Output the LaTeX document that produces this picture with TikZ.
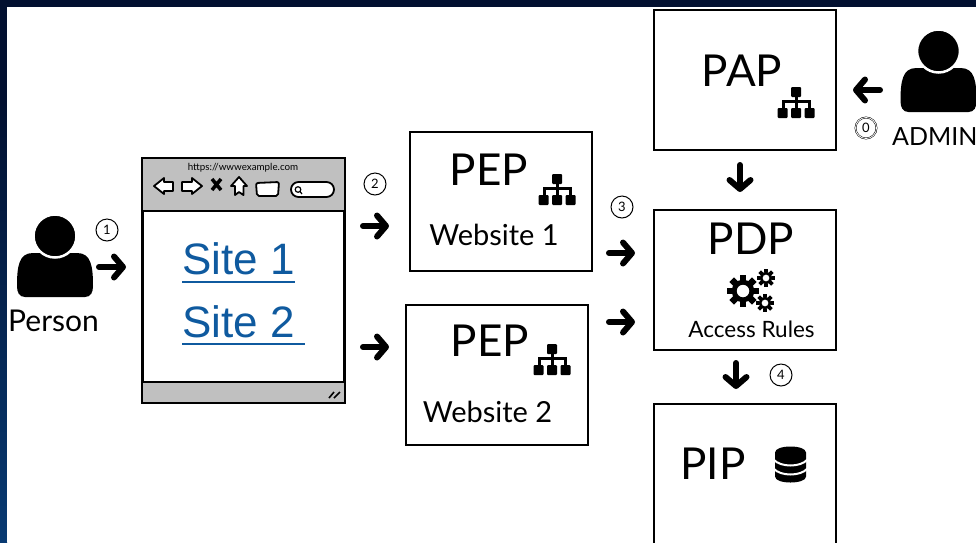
\documentclass[tikz,border=0pt]{standalone}
\usepackage{fontspec}
\setmainfont{Lato}
\newfontfamily\sitefont{Liberation Sans}
\usetikzlibrary{arrows.meta}
\definecolor{navy}{HTML}{021030}
\definecolor{stripblue}{HTML}{083A72}
\definecolor{sitelink}{HTML}{0F5A9F}
\definecolor{chrome}{HTML}{C0C0C0}
\newcommand{\fsz}[1]{\fontsize{#1}{#1}\selectfont}
\tikzset{
  box/.style={draw=black,line width=1.5pt,fill=white,minimum width=182pt,inner sep=0pt},
  boxtitle/.style={inner sep=0pt,text=black,font=\fsz{44}},
  boxnote/.style={inner sep=0pt,text=black,font=\fsz{29}},
  fat/.style={draw=black,line width=6pt,line cap=round,line join=round,-{Straight Barb[round,length=9pt,width=21pt]}},
  num/.style={circle,draw=black,line width=1pt,fill=white,minimum size=22pt,inner sep=0pt,font=\fsz{13}},
  sitelabel/.style={inner sep=0pt,text=sitelink,font=\sitefont\fsz{44}},
  linkline/.style={draw=sitelink,line width=2.2pt},
  tool/.style={draw=black,line width=1.8pt,fill=white,line join=round},
  person/.pic={
    \fill[black] (-30,61) -- (30,61) .. controls (36,61) and (38,56) .. (38,50)
      .. controls (38,30) and (36,17) .. (22,17) -- (-22,17)
      .. controls (-36,17) and (-38,30) .. (-38,50)
      .. controls (-38,56) and (-36,61) .. (-30,61) -- cycle;
    \draw[white,line width=2.5pt,fill=black] (0,0) circle (21.5pt);
  },
  orgchart/.pic={
    \fill[black,rounded corners=1pt] (-5,-16) rectangle (5,-6);
    \fill[black] (-1.5,-6) rectangle (1.5,6);
    \fill[black] (-14.5,-3) rectangle (14.5,0);
    \fill[black] (-14.5,-3) rectangle (-11.5,6);
    \fill[black] (11.5,-3) rectangle (14.5,6);
    \fill[black,rounded corners=1pt] (-18.5,5) rectangle (-8.5,15);
    \fill[black,rounded corners=1pt] (-5,5) rectangle (5,15);
    \fill[black,rounded corners=1pt] (8.5,5) rectangle (18.5,15);
  },
  pics/gear/.style={code={
    \foreach \a in {0,45,...,315}{
      \fill[black,rotate=\a] (-#1*.2,-#1) rectangle (#1*.2,-#1*.62);
    }
    \draw[black,line width=#1*.3pt] (0,0) circle ({#1*.55pt});
  }},
  dbstack/.pic={
    \fill[black] (-15.5,-12) -- (-15.5,12) .. controls (-15.5,20) and (15.5,20) .. (15.5,12) -- (15.5,-12)
      .. controls (15.5,-20) and (-15.5,-20) .. (-15.5,-12) -- cycle;
    \draw[white,line width=2pt] (-17,-5) .. controls (-10,3) and (10,3) .. (17,-5);
    \draw[white,line width=2pt] (-17,4) .. controls (-10,12) and (10,12) .. (17,4);
  }
}
\begin{document}
\begin{tikzpicture}[x=1pt,y=-1pt]
\useasboundingbox (0,0) rectangle (976,542);
\clip (0,0) rectangle (976,542);
% page frame
\fill[navy] (0,0) rectangle (976,542);
\shade[top color=navy,bottom color=stripblue] (0,100) rectangle (7,542);
\fill[white] (7,7) rectangle (976,542);

% boxes
\node[box,minimum height=140pt] (pap) at (745,80) {};
\node[box,minimum height=139pt] (pep1) at (501,201.5) {};
\node[box,minimum height=140pt] (pep2) at (497,375) {};
\node[box,minimum height=140pt] (pdp) at (745,280) {};
\node[box,minimum height=156pt] (pip) at (745,482) {};

% box text
\node[boxtitle,anchor=base] (paptxt) at (742,86) {PAP};
\node[boxtitle,anchor=base] (pep1txt) at (489,185) {PEP};
\node[boxnote,anchor=base] (pep1note) at (494,245) {Website 1};
\node[boxtitle,anchor=base] (pep2txt) at (490,356) {PEP};
\node[boxnote,anchor=base] (pep2note) at (487.5,422) {Website 2};
\node[boxtitle,anchor=base] (pdptxt) at (751,254) {PDP};
\node[inner sep=0pt,font=\fsz{22.5},anchor=base] (pdpnote) at (751.5,337) {Access Rules};
\node[boxtitle,anchor=base] (piptxt) at (713,479) {PIP};

% icons
\pic at (796,103) {orgchart};
\pic at (557,190) {orgchart};
\pic at (552,360) {orgchart};
\pic at (743,291) {gear=16};
\pic at (766,278) {gear=9};
\pic at (765,303) {gear=9};
\pic at (790.5,464.5) {dbstack};

% browser
\node[draw=black,line width=1.8pt,fill=white,minimum width=201pt,minimum height=243pt,inner sep=0pt] (browser) at (243.5,280.5) {};
\fill[chrome] (browser.north west) rectangle (344,211);
\fill[chrome] (143,382) rectangle (browser.south east);
\draw[line width=1.8pt] (browser.north west) rectangle (browser.south east);
\draw[line width=1.5pt] (143,211) -- (344,211);
\draw[line width=1.5pt] (143,382) -- (344,382);
\node[inner sep=0pt,font=\fsz{9.8}] (url) at (243,168) {https://wwwexample.com};
\draw[tool] (154,186) -- (164,178) -- (164,182) -- (173,182) -- (173,191) -- (164,191) -- (164,194) -- cycle;
\draw[tool] (202,186) -- (192,178) -- (192,182) -- (182,182) -- (182,191) -- (192,191) -- (192,194) -- cycle;
\draw[black,line width=3.5pt] (212,179) -- (221,190) (221,179) -- (212,190);
\draw[tool] (239,177) -- (247,186) -- (243.5,186) -- (243.5,195) -- (239,192) -- (235,195) -- (235,186) -- (231,186) -- cycle;
\draw[tool,rounded corners=2pt] (256,183) -- (279,182) -- (278,196) -- (257,196) -- cycle;
\draw[tool,rounded corners=7.5pt] (291,182) rectangle (334,197);
\draw[black,line width=1.2pt] (298,189.5) circle (2.8pt) (300,191.5) -- (302,194);
\draw[black,line width=1.6pt] (329,398) -- (334,392) (334,398) -- (340,392);

% site links
\node[sitelabel,anchor=base west] (site1) at (182,274) {Site 1};
\node[sitelabel,anchor=base west] (site2) at (182,337) {Site 2};
\draw[linkline] (182,282) -- (295,282);
\draw[linkline] (182,344) -- (305,344);

% people
\pic at (55,236) {person};
\pic at (938.5,51) {person};
\node[inner sep=0pt,font=\fsz{30},anchor=base west] (personlbl) at (8,331) {Person};
\node[inner sep=0pt,font=\fsz{25},anchor=base west] (adminlbl) at (892,145) {ADMIN};

% numbers
\node[num] (n1) at (107,230) {1};
\node[num] (n2) at (375,184) {2};
\node[num] (n3) at (622,207) {3};
\node[num] (n4) at (781,375) {4};
\node[num,double,double distance=.8pt,line width=.5pt,minimum size=21pt] (n0) at (866,128) {0};

% arrows
\coordinate (a1s) at (99,267); \coordinate (a1e) at (126,267);
\coordinate (a2s) at (363,226); \coordinate (a2e) at (389,226);
\coordinate (a2bs) at (363,347); \coordinate (a2be) at (389,347);
\coordinate (a3s) at (609,253); \coordinate (a3e) at (635,253);
\coordinate (a3bs) at (609,322); \coordinate (a3be) at (635,322);
\coordinate (a4s) at (736,363); \coordinate (a4e) at (736,389);
\coordinate (a5s) at (740,165); \coordinate (a5e) at (740,192);
\coordinate (a6s) at (880,90); \coordinate (a6e) at (853,90);
\draw[fat] (a1s) -- (a1e);
\draw[fat] (a2s) -- (a2e);
\draw[fat] (a2bs) -- (a2be);
\draw[fat] (a3s) -- (a3e);
\draw[fat] (a3bs) -- (a3be);
\draw[fat] (a4s) -- (a4e);
\draw[fat] (a5s) -- (a5e);
\draw[fat] (a6s) -- (a6e);
\end{tikzpicture}
\end{document}
